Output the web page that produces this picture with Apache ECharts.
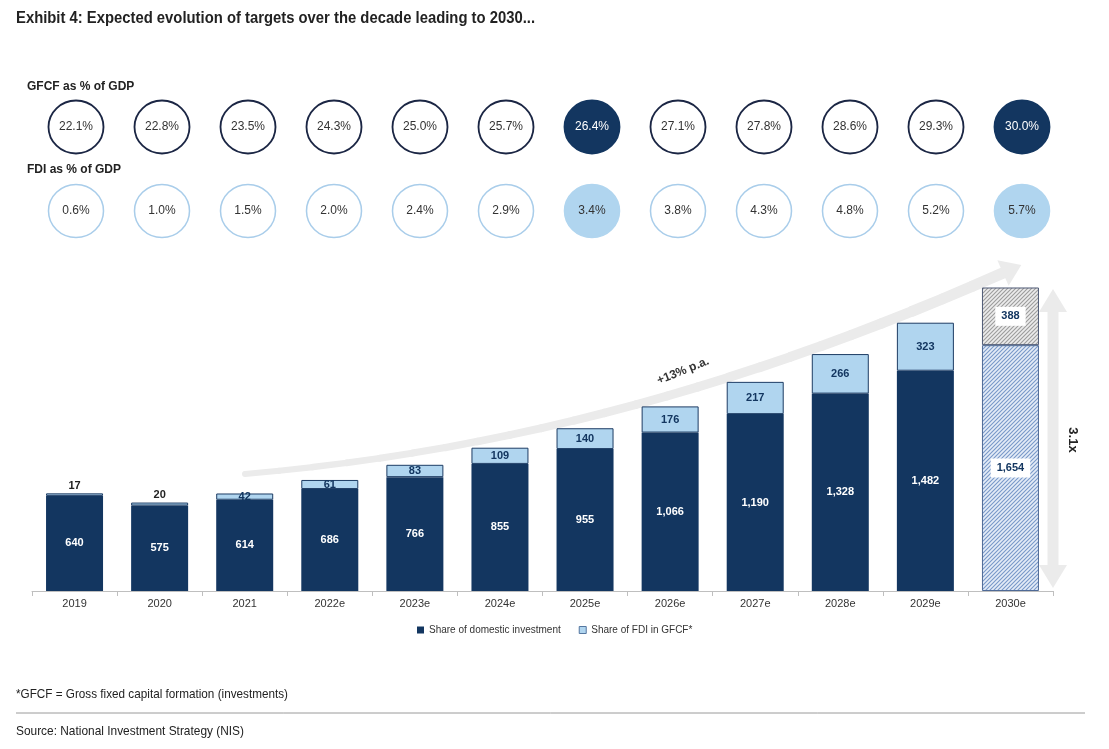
<!DOCTYPE html>
<html><head><meta charset="utf-8">
<script src="https://cdn.jsdelivr.net/npm/echarts@6/dist/echarts.min.js"></script>
<style>html,body{margin:0;padding:0;background:#fff}#c{width:1109px;height:749px}</style>
</head><body><div id="c"></div>
<script>
const categories = ['2019','2020','2021','2022e','2023e','2024e','2025e','2026e','2027e','2028e','2029e','2030e'];
const domestic = [640, 575, 614, 686, 766, 855, 955, 1066, 1190, 1328, 1482, 1654];
const fdi = [17, 20, 42, 61, 83, 109, 140, 176, 217, 266, 323, 388];
const gfcfPct = [22.1, 22.8, 23.5, 24.3, 25.0, 25.7, 26.4, 27.1, 27.8, 28.6, 29.3, 30.0];
const fdiPct = [0.6, 1.0, 1.5, 2.0, 2.4, 2.9, 3.4, 3.8, 4.3, 4.8, 5.2, 5.7];
const highlightIdx = [6, 11];
const hatchedIdx = 11;
const labelAboveIdx = [0, 1];

const NAVY = '#133660';
const LIGHT = '#b0d5ef';
const ARROW = '#ebebeb';
const SANS = '"Liberation Sans",Arial,sans-serif';

// measure text to emulate a narrow font by horizontal scaling
const mctx = document.createElement('canvas').getContext('2d');
function fitScale(text, font, target) {
  mctx.font = font;
  const w = mctx.measureText(text).width;
  return w > 0 ? target / w : 1;
}
function narrowText(text, font, x, y, target) {
  return { type: 'text', x: x, y: y, scaleX: fitScale(text, font, target),
    style: { text: text, font: font, fill: '#222', verticalAlign: 'middle', align: 'left' } };
}

function hatch(bg, line) {
  const c = document.createElement('canvas');
  c.width = 4; c.height = 4;
  const g = c.getContext('2d');
  g.fillStyle = bg; g.fillRect(0, 0, 4, 4);
  g.strokeStyle = line; g.lineWidth = 1.1;
  g.beginPath();
  g.moveTo(-1, 5); g.lineTo(5, -1);
  g.moveTo(-1, 1); g.lineTo(1, -1);
  g.moveTo(3, 5); g.lineTo(5, 3);
  g.stroke();
  return { image: c, repeat: 'repeat' };
}
const blueHatch = hatch('#e4ecf7', '#7898c8');
const grayHatch = hatch('#ececec', '#9c9c9c');

const fmt = v => Number(v).toLocaleString('en-US');

const domData = domestic.map((v, i) => {
  if (i === hatchedIdx) return {
    value: v,
    itemStyle: { color: blueHatch, borderColor: '#4f6a96', borderWidth: 1 },
    label: { color: NAVY, backgroundColor: '#fff', padding: [4, 6] }
  };
  return v;
});
const fdiData = fdi.map((v, i) => {
  if (i === hatchedIdx) return {
    value: v,
    itemStyle: { color: grayHatch, borderColor: '#4f5a76', borderWidth: 1 },
    label: { color: NAVY, backgroundColor: '#fff', padding: [4, 6] }
  };
  if (labelAboveIdx.includes(i)) return { value: v, label: { position: 'top', color: '#222', distance: 2 } };
  return v;
});

function circleData(vals, row, dark) {
  return vals.map((v, i) => {
    const hi = highlightIdx.includes(i);
    return {
      value: [i, row, v],
      itemStyle: hi ? { color: dark ? NAVY : LIGHT, borderColor: dark ? NAVY : LIGHT } : {},
      label: hi && dark ? { color: '#fff' } : {}
    };
  });
}

// growth arrow (annotation): tapered cubic curve + head
const P0 = [245, 474], C1 = [520, 450], C2 = [760, 380], P3 = [1003, 273];
function bez(t) {
  const a = (1 - t) ** 3, b = 3 * (1 - t) ** 2 * t, c = 3 * (1 - t) * t * t, d = t ** 3;
  return [a * P0[0] + b * C1[0] + c * C2[0] + d * P3[0], a * P0[1] + b * C1[1] + c * C2[1] + d * P3[1]];
}
const arrowParts = [];
const N = 24;
for (let k = 0; k < N; k++) {
  const a = bez(k / N), b = bez((k + 1) / N);
  arrowParts.push({ type: 'line', z: 1, shape: { x1: a[0], y1: a[1], x2: b[0], y2: b[1] },
    style: { stroke: ARROW, lineWidth: 6 + 5.5 * (k / N), lineCap: 'round' } });
}
const dx = P3[0] - C2[0], dy = P3[1] - C2[1];
const dl = Math.hypot(dx, dy), ux = dx / dl, uy = dy / dl, px = -uy, py = ux;
arrowParts.push({ type: 'polygon', z: 1, shape: { points: [
  [P3[0] + ux * 20, P3[1] + uy * 20],
  [P3[0] + px * 14, P3[1] + py * 14],
  [P3[0] - px * 14, P3[1] - py * 14]
] }, style: { fill: ARROW } });

const chart = echarts.init(document.getElementById('c'));
chart.setOption({
  animation: false,
  grid: [
    { left: 32, right: 56, top: 264, bottom: 158 },
    { left: 33, width: 1032, top: 127, height: 84 }
  ],
  xAxis: [
    { type: 'category', data: categories, gridIndex: 0,
      axisLine: { lineStyle: { color: '#bfbfbf' } },
      axisTick: { show: true, length: 5, lineStyle: { color: '#bfbfbf' } },
      axisLabel: { color: '#333', fontSize: 11, fontFamily: SANS, margin: 7 } },
    { type: 'category', data: categories, gridIndex: 1, show: false }
  ],
  yAxis: [
    { type: 'value', gridIndex: 0, min: 0, max: 2200, show: false },
    { type: 'value', gridIndex: 1, min: 0, max: 1, show: false }
  ],
  legend: {
    left: 412, top: 620, itemWidth: 7, itemHeight: 7, itemGap: 18, icon: 'rect',
    textStyle: { color: '#333', fontSize: 10, fontFamily: SANS },
    data: [
      { name: 'Share of domestic investment', itemStyle: { color: NAVY } },
      { name: 'Share of FDI in GFCF*', itemStyle: { color: LIGHT, borderColor: '#5577a0', borderWidth: 1 } }
    ]
  },
  series: [
    { name: 'Share of domestic investment', type: 'bar', stack: 'total', barWidth: 57,
      xAxisIndex: 0, yAxisIndex: 0, data: domData,
      itemStyle: { color: NAVY },
      label: { show: true, position: 'inside', color: '#fff', fontWeight: 'bold', fontSize: 11,
               fontFamily: SANS, formatter: p => fmt(p.value) } },
    { name: 'Share of FDI in GFCF*', type: 'bar', stack: 'total', barWidth: 57,
      xAxisIndex: 0, yAxisIndex: 0, data: fdiData,
      itemStyle: { color: LIGHT, borderColor: '#1d3c64', borderWidth: 1 },
      label: { show: true, position: 'inside', color: NAVY, fontWeight: 'bold', fontSize: 11,
               fontFamily: SANS, formatter: p => fmt(p.value) } },
    { type: 'scatter', xAxisIndex: 1, yAxisIndex: 1, clip: false, symbol: 'circle', symbolSize: [55, 53],
      data: circleData(gfcfPct, 1, true), z: 5,
      itemStyle: { color: '#fff', borderColor: '#1b2644', borderWidth: 1.8, opacity: 1 },
      label: { show: true, position: 'inside', color: '#333', fontSize: 12, fontFamily: SANS,
               formatter: p => p.value[2].toFixed(1) + '%' } },
    { type: 'scatter', xAxisIndex: 1, yAxisIndex: 1, clip: false, symbol: 'circle', symbolSize: [55, 53],
      data: circleData(fdiPct, 0, false), z: 5,
      itemStyle: { color: '#fff', borderColor: '#a9cdea', borderWidth: 1.5, opacity: 1 },
      label: { show: true, position: 'inside', color: '#333', fontSize: 12, fontFamily: SANS,
               formatter: p => p.value[2].toFixed(1) + '%' } }
  ],
  graphic: [
    narrowText('Exhibit 4: Expected evolution of targets over the decade leading to 2030...', 'bold 17px ' + SANS, 16, 18, 519),
    { type: 'text', left: 27, top: 81, style: { text: 'GFCF as % of GDP', fill: '#222', font: 'bold 12px ' + SANS } },
    { type: 'text', left: 27, top: 164, style: { text: 'FDI as % of GDP', fill: '#222', font: 'bold 12px ' + SANS } },
    ...arrowParts,
    { type: 'text', x: 683, y: 371, rotation: 0.38, z: 6,
      style: { text: '+13% p.a.', fill: '#333', font: 'bold 12px ' + SANS, align: 'center', verticalAlign: 'middle' } },
    // vertical double arrow
    { type: 'line', z: 1, shape: { x1: 1053, y1: 305, x2: 1053, y2: 572 }, style: { stroke: ARROW, lineWidth: 11 } },
    { type: 'polygon', z: 1, shape: { points: [[1053, 289], [1039, 312], [1067, 312]] }, style: { fill: ARROW } },
    { type: 'polygon', z: 1, shape: { points: [[1053, 588], [1039, 565], [1067, 565]] }, style: { fill: ARROW } },
    { type: 'text', x: 1073, y: 440, rotation: -Math.PI / 2,
      style: { text: '3.1x', fill: '#222', font: 'bold 13px ' + SANS, align: 'center', verticalAlign: 'middle' } },
    // footer
    narrowText('*GFCF = Gross fixed capital formation (investments)', '13px ' + SANS, 16, 694, 272),
    { type: 'line', shape: { x1: 16, y1: 713, x2: 1085, y2: 713 }, style: { stroke: '#9a9a9a', lineWidth: 1 } },
    narrowText('Source: National Investment Strategy (NIS)', '13px ' + SANS, 16, 731, 228)
  ]
});
</script>
</body></html>
